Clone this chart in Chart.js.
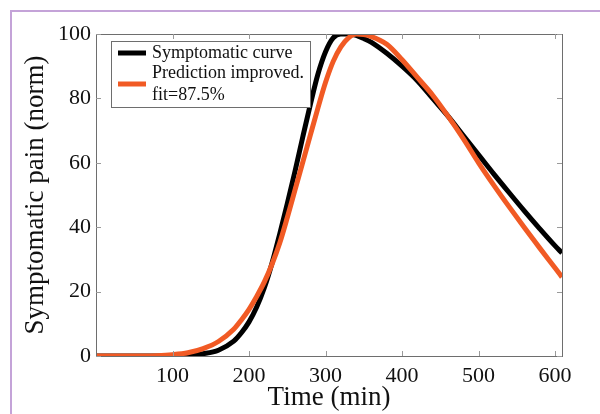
<!DOCTYPE html>
<html>
<head>
<meta charset="utf-8">
<script src="https://cdn.jsdelivr.net/npm/chart.js@4.4.1/dist/chart.umd.min.js"></script>
<style>
  html, body { margin: 0; padding: 0; background: #fff; overflow: hidden; }
  #wrap { position: relative; width: 600px; height: 414px; overflow: hidden; }
  #frame { position: absolute; left: 10px; top: 10px; width: 620px; height: 440px;
           border-left: 2px solid #c4a3d8; border-top: 2px solid #c4a3d8; pointer-events: none; }
  canvas { position: absolute; left: 0; top: 0; }
</style>
</head>
<body>
<div id="wrap">
  <canvas id="c" width="600" height="414"></canvas>
  <div id="frame"></div>
</div>
<script>
// ---- data ----
const times = [0, 20, 40, 60, 80, 100, 120, 140, 160, 180, 190, 200, 210, 220, 230, 240, 250, 260, 270, 280, 290, 300, 310, 320, 330, 340, 350, 360, 380, 400, 420, 440, 460, 480, 500, 520, 540, 560, 580, 600, 609];
const symptomatic = [0, 0, 0, 0, 0, 0, 0.15, 0.7, 1.8, 4.6, 7.2, 10.6, 15.2, 21.2, 28.8, 37.8, 47.3, 57.3, 67.8, 78, 87.5, 94.5, 98.8, 100, 100, 99.6, 98.6, 97.4, 94, 90, 85.5, 80, 74.5, 68.5, 62.5, 56.5, 50.7, 45, 39.5, 34.2, 32];
const prediction = [0, 0, 0, 0, 0.1, 0.4, 1.0, 2.3, 4.5, 8.3, 11.2, 14.5, 18.5, 23, 28.5, 35, 43, 51.5, 60, 68.5, 77, 85, 91.5, 96, 98.8, 100, 99.8, 99.2, 96.8, 92, 86.5, 81, 74.5, 67.5, 60, 53, 46.3, 39.8, 33.5, 27.3, 24.5];
const xTickValues = [100, 200, 300, 400, 500, 600];
const yTickValues = [0, 20, 40, 60, 80, 100];
const seriesLabels = ['Symptomatic curve', 'Prediction improved. fit=87.5%'];
const legendLines = [['Symptomatic curve'], ['Prediction improved.', 'fit=87.5%']];
const xTitle = 'Time (min)';
const yTitle = 'Symptomatic pain (norm)';

const SERIF = '"Liberation Serif", "Times New Roman", serif';
const BLACK = '#000000';
const ORANGE = '#f15a24';

const toXY = (vals) => times.map((t, i) => ({ x: t, y: vals[i] }));

const frameTicks = {
  id: 'frameTicks',
  afterDatasetsDraw(chart) {
    const { ctx, chartArea: a, scales: { x, y } } = chart;
    ctx.save();
    ctx.strokeStyle = '#6e6e6e';
    ctx.lineWidth = 1;
    ctx.strokeRect(Math.round(a.left) + 0.5, Math.round(a.top) + 0.5,
                   Math.round(a.right - a.left), Math.round(a.bottom - a.top));
    ctx.strokeStyle = '#9a9a9a';
    const L = 5;
    ctx.beginPath();
    xTickValues.forEach(v => {
      const px = Math.round(x.getPixelForValue(v)) + 0.5;
      ctx.moveTo(px, a.bottom); ctx.lineTo(px, a.bottom - L);
      ctx.moveTo(px, a.top); ctx.lineTo(px, a.top + L);
    });
    yTickValues.forEach(v => {
      const py = Math.round(y.getPixelForValue(v)) + 0.5;
      ctx.moveTo(a.left, py); ctx.lineTo(a.left + L, py);
      ctx.moveTo(a.right, py); ctx.lineTo(a.right - L, py);
    });
    ctx.stroke();
    ctx.restore();
  },
  afterDraw(chart) {
    const { ctx } = chart;
    const ds = chart.data.datasets;
    ctx.save();
    const bx = 111, by = 41, bw = 199, bh = 66;
    ctx.fillStyle = '#fff';
    ctx.fillRect(bx, by, bw, bh);
    ctx.strokeStyle = '#6e6e6e';
    ctx.lineWidth = 1;
    ctx.strokeRect(bx + 0.5, by + 0.5, bw, bh);
    ctx.font = '18px ' + SERIF;
    ctx.textBaseline = 'middle';
    ctx.textAlign = 'left';
    const rows = [{ y: 53, lines: legendLines[0], sy: 53 }, { y: 73, lines: legendLines[1], sy: 84 }];
    rows.forEach((r, i) => {
      ctx.strokeStyle = ds[i].borderColor;
      ctx.lineWidth = 5;
      ctx.beginPath();
      ctx.moveTo(118, r.sy); ctx.lineTo(146, r.sy);
      ctx.stroke();
      ctx.fillStyle = '#111';
      r.lines.forEach((t, j) => ctx.fillText(t, 152, r.y + j * 22));
    });
    ctx.restore();
  }
};

new Chart(document.getElementById('c'), {
  type: 'line',
  data: {
    datasets: [
      { label: seriesLabels[0], data: toXY(symptomatic), borderColor: BLACK, backgroundColor: BLACK,
        borderWidth: 5, pointRadius: 0, cubicInterpolationMode: 'monotone', order: 1 },
      { label: seriesLabels[1], data: toXY(prediction), borderColor: ORANGE, backgroundColor: ORANGE,
        borderWidth: 5, pointRadius: 0, cubicInterpolationMode: 'monotone', order: 0 }
    ]
  },
  options: {
    responsive: false,
    animation: false,
    events: [],
    layout: { padding: { left: 0, right: 38, top: 34, bottom: 0 } },
    plugins: { legend: { display: false }, tooltip: { enabled: false } },
    scales: {
      x: {
        type: 'linear', min: 0, max: 609,
        afterFit(s) { s.height = 58; },
        afterBuildTicks(s) { s.ticks = xTickValues.map(v => ({ value: v })); },
        grid: { display: false, drawTicks: false },
        border: { display: false },
        ticks: { color: '#111', font: { family: SERIF, size: 22 }, padding: 7, maxRotation: 0, autoSkip: false },
        title: { display: true, text: xTitle, color: '#111', font: { family: SERIF, size: 27, lineHeight: 1 }, padding: { top: 0, bottom: 3 } }
      },
      y: {
        min: 0, max: 100,
        afterFit(s) { s.width = 96; },
        afterBuildTicks(s) { s.ticks = yTickValues.map(v => ({ value: v })); },
        grid: { display: false, drawTicks: false },
        border: { display: false },
        ticks: { color: '#111', font: { family: SERIF, size: 22 }, padding: 5, autoSkip: false },
        title: { display: true, text: yTitle, color: '#111', font: { family: SERIF, size: 27, lineHeight: 1 }, padding: { top: 22, bottom: 0 } }
      }
    }
  },
  plugins: [frameTicks]
});
</script>
</body>
</html>
